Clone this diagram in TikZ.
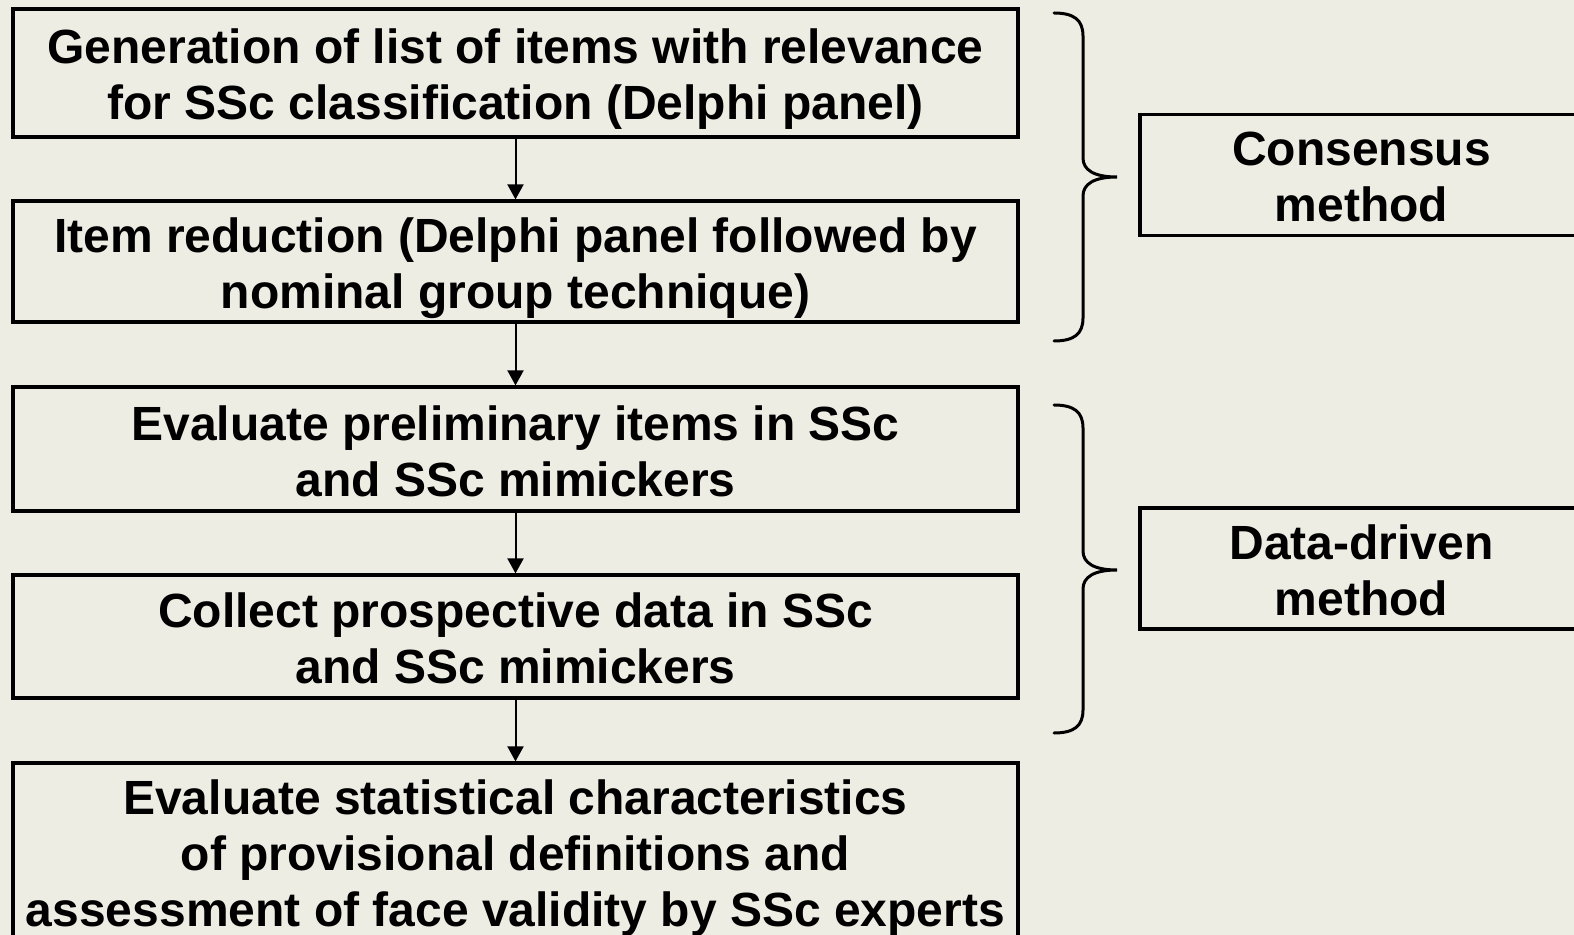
\documentclass[tikz,border=0pt]{standalone}
\usepackage{fontspec}
\setmainfont{Liberation Sans}
\usetikzlibrary{arrows.meta}
\definecolor{bg}{RGB}{238,237,228}
\newcommand\lnstrut{\rule[-5.5pt]{0pt}{30pt}}
\newcommand\boxfont{\bfseries\fontsize{24}{28}\selectfont\lineskiplimit=-50pt\relax\lineskip=0pt\relax}
\begin{document}
\begin{tikzpicture}[x=0.5pt,y=-0.5pt,
  box/.style={draw=black, line width=1.6pt, rectangle, inner sep=0pt, align=center,
    font=\boxfont},
  flowbox/.style={box, minimum width=502.5pt},
  sidebox/.style={box, minimum width=221.5pt, minimum height=60.5pt},
  arr/.style={line width=1pt, -{Triangle[length=7.5pt,width=8pt]}},
  bracepath/.style={line width=1.5pt, line cap=round}]
\clip (0,0) rectangle (1574,935);
\fill[bg] (0,0) rectangle (1574,935);

\node[flowbox, minimum height=64pt] (b1) at (515.5,73)
  {\lnstrut Generation of list of items with relevance\\\lnstrut for SSc classification (Delphi panel)};
\node[flowbox, minimum height=60.5pt] (b2) at (515.5,261.5)
  {\lnstrut Item reduction (Delphi panel followed by\\\lnstrut nominal group technique)};
\node[flowbox, minimum height=62pt] (b3) at (515.5,449)
  {\lnstrut Evaluate preliminary items in SSc\\\lnstrut and SSc mimickers};
\node[flowbox, minimum height=61.5pt] (b4) at (515.5,636.5)
  {\lnstrut Collect prospective data in SSc\\\lnstrut and SSc mimickers};
\node[flowbox, minimum height=88pt] (b5) at (515.5,851)
  {\lnstrut Evaluate statistical characteristics\\\lnstrut of provisional definitions and\\\lnstrut assessment of face validity by SSc experts};

\node[sidebox] (c1) at (1361.5,175) {\lnstrut Consensus\\\lnstrut method};
\node[sidebox] (c2) at (1361.5,568.5) {\lnstrut Data-driven\\\lnstrut method};

\draw[arr] (b1.south) -- (b2.north);
\draw[arr] (b2.south) -- (b3.north);
\draw[arr] (b3.south) -- (b4.north);
\draw[arr] (b4.south) -- (b5.north);

% braces
\coordinate (t1) at (1117,177);
\coordinate (t2) at (1117,570);
\draw[bracepath] (1054,13) .. controls (1074,13) and (1083,20) .. (1083,36)
  -- (1083,158) .. controls (1083,170) and (1094,177) .. (t1)
  .. controls (1094,177) and (1083,184) .. (1083,196)
  -- (1083,318) .. controls (1083,334) and (1074,341) .. (1054,341);
\draw[bracepath] (1054,405) .. controls (1074,405) and (1083,412) .. (1083,428)
  -- (1083,551) .. controls (1083,563) and (1094,570) .. (t2)
  .. controls (1094,570) and (1083,577) .. (1083,589)
  -- (1083,710) .. controls (1083,726) and (1074,733) .. (1054,733);
\end{tikzpicture}
\end{document}
